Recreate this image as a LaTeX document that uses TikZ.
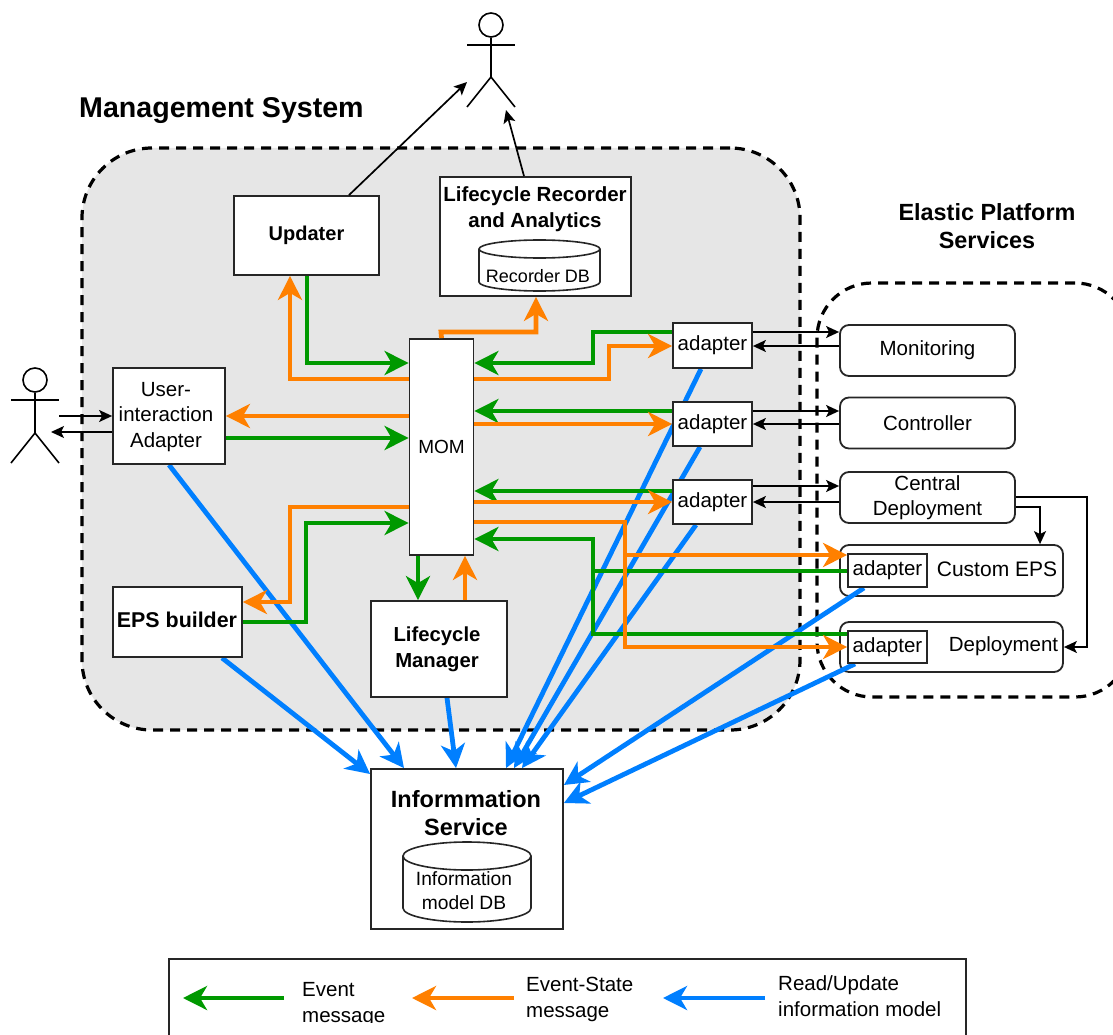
\documentclass[tikz,border=0pt]{standalone}
\usepackage{fontspec}
\setmainfont{Liberation Sans}
\usetikzlibrary{shapes,arrows.meta,positioning,calc,backgrounds}

\definecolor{evtgreen}{HTML}{009900}
\definecolor{stategreen}{HTML}{FF8000}
\definecolor{infoblue}{HTML}{007FFF}
\definecolor{regiongray}{HTML}{E6E6E6}

\tikzset{
  lbl/.style={font=\fontsize{20.5}{25.5}\selectfont,align=center,inner sep=0pt},
  boldlbl/.style={font=\fontsize{20.5}{26}\selectfont\bfseries,align=center,inner sep=0pt},
  box/.style={draw=black!85,line width=1.8pt,fill=white,rectangle,inner sep=0pt,align=center,font=\fontsize{20.5}{25.5}\selectfont},
  rbox/.style={box,rounded corners=9pt},
  dbline/.style={draw=black!85,line width=1.6pt,fill=white},
  region/.style={rectangle,draw=black,line width=3.2pt,dash pattern=on 10pt off 7pt},
  evt/.style={draw=evtgreen,line width=4.8pt,-{Stealth[length=24pt,width=24pt,inset=7pt]}},
  evtline/.style={draw=evtgreen,line width=4.8pt},
  state/.style={draw=stategreen,line width=4.8pt,-{Stealth[length=24pt,width=24pt,inset=7pt]}},
  info/.style={draw=infoblue,line width=4.8pt,-{Stealth[length=24pt,width=24pt,inset=7pt]}},
  call/.style={draw=black,line width=1.7pt,-{Stealth[length=13pt,width=12pt,inset=3pt]}},
  stick/.style={draw=black,line width=1.6pt}
}

\begin{document}
\begin{tikzpicture}[x=1pt,y=-1pt]
\useasboundingbox (0,0) rectangle (1113,1035);

%Management System
\node[lbl,font=\fontsize{28.6}{34}\selectfont\bfseries,anchor=west] (mgmttitle) at (79,110.5) {Management System};
\node[box,minimum width=145pt,minimum height=79pt,font=\fontsize{20}{26}\selectfont\bfseries] (updater) at (306.5,235.5) {Updater};
\node[box,minimum width=191pt,minimum height=119pt] (recorder) at (535.5,236.5) {};
\node[boldlbl] (recordertitle) at (535,209.5) {Lifecycle Recorder\\and Analytics};
\draw[dbline] (479,249) arc[start angle=180,end angle=0,x radius=60.5pt,y radius=9pt] -- (600,282) arc[start angle=0,end angle=-180,x radius=60.5pt,y radius=9pt] -- cycle;
\draw[dbline,fill=none] (479,249) arc[start angle=180,end angle=360,x radius=60.5pt,y radius=9pt];
\node[lbl,font=\fontsize{18}{22}\selectfont] (recorderdb) at (538,276.5) {Recorder DB};
\node[box,minimum width=64pt,minimum height=216pt,font=\fontsize{19}{24}\selectfont] (mom) at (441.5,447) {MOM};
\node[box,minimum width=112pt,minimum height=96pt] (useradapter) at (169,416) {};
\node[lbl] (useradapterlabel) at (166,417) {User-\\interaction\\Adapter};
\node[box,minimum width=129pt,minimum height=70pt] (epsbuilder) at (177.5,622) {};
\node[lbl,font=\fontsize{21.4}{26}\selectfont\bfseries] (epsbuilderlabel) at (177,620) {EPS builder};
\node[box,minimum width=136pt,minimum height=96pt] (lifecycle) at (439,649) {};
\node[lbl,font=\fontsize{20.3}{26}\selectfont\bfseries] (lifecyclelabel) at (437,649.5) {Lifecycle\\Manager};
\node[box,minimum width=79pt,minimum height=45pt] (adapterA) at (712.5,345.5) {adapter};
\node[box,minimum width=79pt,minimum height=44pt] (adapterB) at (712.5,424) {adapter};
\node[box,minimum width=79pt,minimum height=44pt] (adapterC) at (712.5,502) {adapter};

%Elastic Platform Services
\node[lbl,font=\fontsize{23.4}{28}\selectfont\bfseries] (epstitle) at (987,226) {Elastic Platform\\Services};
\node[rbox,minimum width=175pt,minimum height=51pt] (monitoring) at (927.5,350.5) {Monitoring};
\node[rbox,minimum width=175pt,minimum height=51pt] (controller) at (927.5,423) {Controller};
\node[rbox,minimum width=175pt,minimum height=51pt] (central) at (927.5,497.5) {Central\\Deployment};
\node[box,minimum width=79pt,minimum height=33pt] (customadapter) at (887.5,570.5) {adapter};
\node[box,minimum width=79pt,minimum height=32pt] (deployadapter) at (887.5,647) {adapter};
\node[lbl,font=\fontsize{21}{25}\selectfont] (customlabel) at (997,569.5) {Custom EPS};
\node[lbl] (deploylabel) at (1003.5,646.5) {Deployment};

%Information Service
\node[box,minimum width=192pt,minimum height=160pt] (infoservice) at (467,849) {};
\node[lbl,font=\fontsize{23.5}{28}\selectfont\bfseries] (infotitle) at (466,813) {Informmation\\Service};
\draw[dbline] (403,856) arc[start angle=180,end angle=0,x radius=64pt,y radius=14pt] -- (531,908) arc[start angle=0,end angle=-180,x radius=64pt,y radius=14pt] -- cycle;
\draw[dbline,fill=none] (403,856) arc[start angle=180,end angle=360,x radius=64pt,y radius=14pt];
\node[lbl,font=\fontsize{19.2}{24}\selectfont] (infodb) at (464,891) {Information\\model DB};

%Actors
\node[circle,stick,fill=none,minimum size=24pt,inner sep=0pt] (userhead) at (35,380) {};
\coordinate (userneck) at (35,400);
\coordinate (userhip) at (35,433);
\draw[stick] (userhead.south) -- (userhip) -- (11,463);
\draw[stick] (userhip) -- (59,463);
\draw[stick] (11,400) -- (userneck) -- (59,400);
\node[circle,stick,fill=none,minimum size=24pt,inner sep=0pt] (ownerhead) at (491,25) {};
\coordinate (ownerneck) at (491,45);
\coordinate (ownerhip) at (491,77);
\draw[stick] (ownerhead.south) -- (ownerhip) -- (467,107);
\draw[stick] (ownerhip) -- (515,107);
\draw[stick] (467,45) -- (ownerneck) -- (515,45);
\coordinate (ownerleft) at (467,82);
\coordinate (ownerbelow) at (506,110);
\coordinate (userout) at (59,416);
\coordinate (userin) at (51,432);

%Background
\begin{scope}[on background layer]
\node[region,fill=regiongray,rounded corners=70pt,minimum width=718pt,minimum height=582pt] (mgmtregion) at (441,439) {};
\node[region,rounded corners=55pt,minimum width=313pt,minimum height=414pt] (epsregion) at (973.5,490) {};
\node[rbox,minimum width=223pt,minimum height=51pt] (customeps) at (951.5,570.5) {};
\node[rbox,minimum width=223pt,minimum height=50pt] (deployment) at (951.5,647) {};
%Information model
\draw[info] (useradapter.south -| 169,0) -- (infoservice.north -| 404,0);
\draw[info] (epsbuilder.south -| 222,0) -- (infoservice.west |- 0,774);
\draw[info] (lifecycle.south -| 447,0) -- (infoservice.north -| 456,0);
\draw[info] (adapterA.south -| 701,0) -- (infoservice.north -| 506,0);
\draw[info] (adapterB.south -| 700,0) -- (infoservice.north -| 514,0);
\draw[info] (adapterC.south -| 696,0) -- (infoservice.north -| 522,0);
\draw[info] (customadapter.south -| 864,0) -- (infoservice.east |- 0,785);
\draw[info] (deployadapter.south -| 855,0) -- (infoservice.east |- 0,803);
\end{scope}

%Event messages
\draw[evt] (updater.south -| 307,0) -- (307,363) -- (mom.west |- 0,363);
\draw[evt] (useradapter.east |- 0,438) -- (mom.west |- 0,438);
\draw[evt] (epsbuilder.east |- 0,622) -- (306,622) -- (306,523) -- (mom.west |- 0,523);
\draw[evt] (mom.south -| 418,0) -- (lifecycle.north -| 418,0);
\draw[evt] (adapterA.west |- 0,332) -- (593,332) -- (593,363) -- (mom.east |- 0,363);
\draw[evt] (adapterB.west |- 0,411) -- (mom.east |- 0,411);
\draw[evt] (adapterC.west |- 0,491) -- (mom.east |- 0,491);
\draw[evt] (deployadapter.west |- 0,634) -- (593,634) -- (593,539) -- (mom.east |- 0,539);
\draw[evtline] (customadapter.west |- 0,571) -- (593,571);

%Event-State messages
\draw[state] (mom.west |- 0,379) -- (290,379) -- (updater.south -| 290,0);
\draw[state] (mom.west |- 0,416) -- (useradapter.east |- 0,416);
\draw[state] (mom.west |- 0,507) -- (290,507) -- (290,602) -- (epsbuilder.east |- 0,602);
\draw[state] (lifecycle.north -| 465,0) -- (mom.south -| 465,0);
\draw[state] (mom.north) -- (441,332) -- (536,332) -- (recorder.south -| 536,0);
\draw[state] (mom.east |- 0,379) -- (609,379) -- (609,346) -- (adapterA.west |- 0,346);
\draw[state] (mom.east |- 0,424) -- (adapterB.west |- 0,424);
\draw[state] (mom.east |- 0,502) -- (adapterC.west |- 0,502);
\draw[state] (mom.east |- 0,522) -- (625,522) -- (625,647) -- (deployadapter.west |- 0,647);
\draw[state] (625,555) -- (customadapter.west |- 0,555);

%Calls
\draw[call] (updater.north -| 349,0) -- (ownerleft);
\draw[call] (recorder.north -| 524,0) -- (ownerbelow);
\draw[call] (userout) -- (useradapter.west |- 0,416);
\draw[call] (useradapter.west |- 0,432) -- (userin);
\draw[call] (adapterA.east |- 0,332) -- (monitoring.west |- 0,332);
\draw[call] (monitoring.west |- 0,346) -- (adapterA.east |- 0,346);
\draw[call] (adapterB.east |- 0,411) -- (controller.west |- 0,411);
\draw[call] (controller.west |- 0,424) -- (adapterB.east |- 0,424);
\draw[call] (adapterC.east |- 0,486) -- (central.west |- 0,486);
\draw[call] (central.west |- 0,502) -- (adapterC.east |- 0,502);
\draw[call] (central.east |- 0,507) -- (1040,507) -- (customeps.north -| 1040,0);
\draw[call] (central.east |- 0,497) -- (1087,497) -- (1087,647) -- (deployment.east);

%Legend
\node[box,minimum width=797pt,minimum height=110pt,anchor=north west] (legend) at (168,958) {};
\begin{scope}
\clip (170,960) rectangle (965,1022);
\node[lbl,font=\fontsize{20.5}{26}\selectfont,align=left,anchor=west] (legendevent) at (302,1005) {Event\\message};
\end{scope}
\node[lbl,font=\fontsize{20.5}{26}\selectfont,align=left,anchor=west] (legendstate) at (526,999) {Event-State\\message};
\node[lbl,font=\fontsize{20.5}{26}\selectfont,align=left,anchor=west] (legendinfo) at (778,996.5) {Read/Update\\information model};
\coordinate (legendeventA) at (284,998);
\coordinate (legendeventB) at (183,998);
\coordinate (legendstateA) at (514,998);
\coordinate (legendstateB) at (412,998);
\coordinate (legendinfoA) at (765,998);
\coordinate (legendinfoB) at (663,998);
\draw[evt] (legendeventA) -- (legendeventB);
\draw[state] (legendstateA) -- (legendstateB);
\draw[info] (legendinfoA) -- (legendinfoB);

\end{tikzpicture}
\end{document}
